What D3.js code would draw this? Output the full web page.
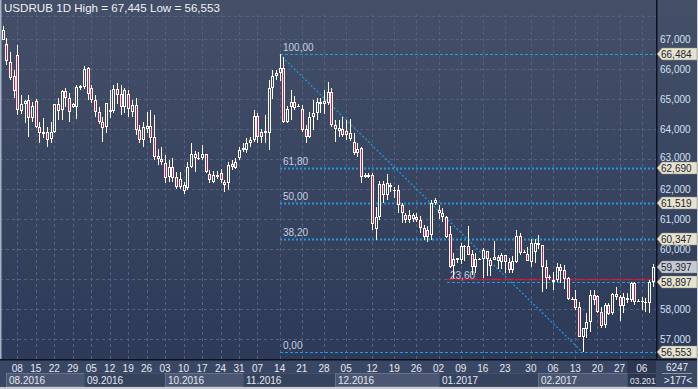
<!DOCTYPE html>
<html><head><meta charset="utf-8">
<script src="https://cdn.jsdelivr.net/npm/d3@7"></script>
<style>html,body{margin:0;padding:0;background:#3a4764;overflow:hidden}svg{display:block}text{font-family:"Liberation Sans",Arial,sans-serif}</style>
</head><body><svg id="c" width="698" height="389"></svg>
<script>
const opens=[66.98,66.83,66.24,65.77,66.47,64.61,64.83,64.97,64.36,64.93,64.06,63.83,63.89,63.67,63.91,64.82,64.63,65.27,65.04,64.74,64.74,65.36,65.41,66.02,65.36,64.97,64.56,64.22,64.06,64.58,64.61,65.32,65.17,64.72,65.17,64.58,64.80,63.97,63.63,64.00,64.10,63.74,63.10,62.99,62.86,62.41,62.74,62.41,62.08,61.94,62.02,62.74,63.16,63.00,63.04,63.16,62.49,62.24,62.47,62.54,62.24,62.19,62.82,62.69,63.02,63.30,63.30,63.52,63.63,64.43,63.91,63.87,63.86,65.36,65.77,65.86,66.02,64.24,64.74,64.91,64.78,64.66,63.99,63.74,64.41,64.52,64.91,64.93,64.86,65.24,64.13,63.94,63.99,63.94,63.68,63.58,63.19,63.36,62.41,62.41,62.47,60.67,61.08,62.16,61.80,62.08,61.97,61.97,61.47,61.13,60.97,61.00,61.08,60.97,60.69,60.63,60.47,61.52,61.30,61.21,61.06,60.50,59.43,59.63,59.63,60.11,60.10,59.82,59.39,59.66,59.67,59.94,59.63,59.63,59.74,59.58,59.80,59.58,59.30,59.58,60.43,59.89,59.83,59.58,59.91,60.21,60.13,59.41,59.06,58.91,58.97,59.41,59.30,59.02,58.33,58.33,58.06,57.08,57.32,57.58,58.47,58.43,57.91,57.47,58.13,57.86,58.49,58.41,58.10,58.36,58.30,58.86,58.28,58.24,58.24,58.19,58.91];
const highs=[67.445,67.02,66.56,65.97,66.80,65.13,64.97,65.13,64.91,64.99,64.24,64.36,64.06,64.24,64.85,65.02,65.30,65.36,65.19,64.86,65.47,65.47,66.09,66.08,65.47,65.13,64.72,64.41,64.86,65.30,65.47,65.53,65.47,65.36,65.30,64.97,65.02,64.13,64.24,64.58,64.64,64.47,63.33,63.40,63.13,62.95,63.02,62.58,62.58,62.24,62.91,63.52,63.27,63.24,63.46,63.16,62.63,62.61,62.61,62.66,62.30,62.91,62.97,63.02,63.41,63.52,63.69,63.74,64.63,64.54,64.00,64.47,65.63,65.97,65.97,66.484,66.41,64.78,65.30,65.10,64.82,64.80,64.13,64.58,64.97,65.02,65.02,65.30,65.57,65.36,64.30,64.30,64.41,64.30,64.35,63.85,63.52,63.41,62.53,62.53,62.53,61.41,62.25,62.25,62.50,62.19,62.08,62.13,61.52,61.20,61.30,61.20,61.20,61.10,60.80,60.75,61.63,61.70,61.45,61.35,61.10,60.75,59.88,59.69,60.20,60.15,60.75,59.95,59.85,59.70,60.03,59.94,59.70,60.27,59.80,59.85,59.80,59.70,59.77,60.63,60.52,59.97,60.08,60.32,60.32,60.45,60.13,59.63,59.12,59.25,59.52,59.49,59.47,59.06,58.40,58.63,58.24,57.13,57.86,58.63,58.63,58.47,58.08,58.19,58.19,58.52,58.74,58.47,58.52,58.52,58.91,58.91,58.33,58.41,58.36,58.97,59.50];
const lows=[66.95,66.12,65.63,65.02,64.47,64.50,64.20,63.74,64.24,64.02,63.54,63.69,63.41,63.55,63.86,64.30,64.30,64.72,64.24,64.70,64.33,65.30,65.35,64.97,64.86,64.41,64.16,63.58,63.86,64.36,64.52,64.84,64.47,64.52,64.41,64.41,63.80,63.52,63.41,63.86,63.52,62.96,62.80,62.80,62.19,62.24,62.24,61.99,61.99,61.83,61.97,62.69,62.58,62.97,62.97,62.52,62.19,62.19,62.32,62.19,61.91,61.97,62.63,62.66,62.97,63.24,63.19,63.41,63.58,63.52,63.52,63.52,63.30,65.00,65.63,65.60,64.19,64.19,64.30,64.63,64.74,63.90,63.52,63.69,63.97,64.30,64.52,64.50,64.80,64.06,63.58,63.74,63.74,63.63,63.60,63.13,63.08,62.19,62.36,62.36,60.63,60.30,60.97,61.52,61.63,61.90,61.69,61.19,60.86,60.86,60.86,60.90,60.90,60.55,60.30,60.25,60.30,61.45,61.00,60.90,60.36,59.38,59.05,59.55,59.50,59.60,59.80,59.15,59.19,59.62,59.03,59.09,59.09,59.63,59.33,59.33,59.20,59.20,59.20,59.52,59.80,59.85,59.61,59.41,59.52,60.00,58.58,58.68,58.97,58.63,58.91,58.86,58.68,58.30,58.30,57.97,57.08,56.553,57.02,57.24,58.13,57.86,57.36,57.36,57.80,57.80,58.30,57.60,57.86,58.19,58.24,58.13,58.24,57.97,57.91,57.86,58.72];
const closes=[67.30,66.28,65.69,65.28,64.63,64.82,64.93,64.36,64.77,64.08,63.86,63.89,63.63,63.91,64.82,64.61,65.27,65.04,64.58,64.82,65.41,65.43,65.99,65.17,64.97,64.58,64.22,64.02,64.86,64.63,65.32,65.13,64.74,65.30,64.66,64.80,63.97,63.63,64.08,64.10,63.69,63.08,62.99,62.91,62.36,62.74,62.36,62.08,62.32,62.13,62.74,63.16,63.02,63.04,63.16,62.58,62.30,62.47,62.41,62.30,62.13,62.80,62.74,62.91,63.30,63.36,63.52,63.63,64.43,63.74,63.74,63.94,65.36,65.77,65.88,66.02,64.24,64.66,64.91,64.69,64.78,63.97,63.74,64.41,64.52,64.91,64.83,64.83,65.24,64.13,63.99,64.02,63.80,63.80,63.88,63.19,63.32,62.41,62.47,62.47,60.83,61.08,62.16,61.80,62.19,62.13,61.97,61.47,61.19,60.97,61.13,61.13,60.97,60.69,60.41,60.41,61.52,61.62,61.19,61.06,60.41,59.41,59.66,59.69,60.10,60.11,59.80,59.41,59.66,59.66,59.98,59.67,59.43,59.74,59.61,59.80,59.58,59.30,59.61,60.43,59.88,59.89,59.61,60.21,60.21,60.12,59.41,59.02,59.06,58.97,59.41,59.28,59.00,58.32,58.33,58.02,57.08,57.36,57.58,58.47,58.30,57.91,57.44,58.13,57.83,58.49,58.41,58.10,58.41,58.30,58.86,58.24,58.28,58.27,58.19,58.91,59.397];

const weekIdx=[4,9,14,19,24,29,34,39,44,49,54,59,64,69,75,81,87,93,100,106,112,118,124,130,136,143,149,155,161,167,173];
const weekLabels=["08","15","22","29","05","12","19","26","03","10","17","24","31","07","14","21","28","05","12","19","26","02","09","16","23","30","06","13","20","27","06"];
const monthIdx=[1,22,44,65,90,118,145,169];
const monthLabels=["08.2016","09.2016","10.2016","11.2016","12.2016","01.2017","02.2017","03.2017"];
const priceTicks=[57,58,60,61,62,63,64,65,66,67];
const priceTickLabels=["57,000","58,000","60,000","61,000","62,000","63,000","64,000","65,000","66,000","67,000"];
const gridPrices=[57,58,59,60,61,62,63,64,65,66,67];
const fibPct=["100,00","61,80","50,00","38,20","23,60","0,00"];
const fibPrices=[66.484,62.690,61.519,60.347,58.897,56.553];
const fibPriceLabels=["66,484","62,690","61,519","60,347","58,897","56,553"];
const lastPrice=59.397, lastPriceLabel="59,397";
const supportPrice=59.0;
const anchorHi=75, anchorLo=157;

const svg=d3.select("#c");
const PW=656, PH=359;
const x=d3.scaleLinear().domain([0,176]).range([2.52,2.52+3.695*176]);
const y=d3.scaleLinear().domain([56,67]).range([369,39]);

const defs=svg.append("defs");
const g=defs.append("linearGradient").attr("id","bg").attr("gradientUnits","userSpaceOnUse").attr("x1",0).attr("y1",0).attr("x2",0).attr("y2",PH);
g.append("stop").attr("offset","0").attr("stop-color","#445068");
g.append("stop").attr("offset","1").attr("stop-color","#2d3a58");
defs.append("clipPath").attr("id","pc").append("rect").attr("x",0).attr("y",0).attr("width",PW).attr("height",PH);
defs.append("clipPath").attr("id","bc").append("rect").attr("x",0).attr("y",PH).attr("width",PW).attr("height",389-PH);

svg.append("rect").attr("width",698).attr("height",389).attr("fill","#3a4764");
svg.append("rect").attr("x",0).attr("y",0).attr("width",698).attr("height",PH).attr("fill","url(#bg)");

const plot=svg.append("g").attr("clip-path","url(#pc)");
plot.selectAll(".hg").data(gridPrices).join("line")
  .attr("x1",0).attr("x2",PW).attr("y1",d=>Math.round(y(d))+0.5).attr("y2",d=>Math.round(y(d))+0.5)
  .attr("stroke","#56627d").attr("stroke-dasharray","3,3");
plot.append("line").attr("x1",0).attr("x2",PW).attr("y1",16.5).attr("y2",16.5).attr("stroke","#56627d").attr("stroke-dasharray","3,3");
plot.selectAll(".vg").data(weekIdx).join("line")
  .attr("x1",d=>Math.round(x(d))+0.5).attr("x2",d=>Math.round(x(d))+0.5).attr("y1",14).attr("y2",PH)
  .attr("stroke","#56627d").attr("stroke-dasharray","3,3");

const fx0=Math.round(x(anchorHi));
fibPrices.forEach((p,k)=>{
  const yy=Math.round(y(p))+0.5;
  const thick=(k>=1&&k<=3);
  const start = k===4 ? 447 : fx0;
  plot.append("line").attr("x1",start).attr("x2",PW).attr("y1",yy).attr("y2",yy)
    .attr("stroke","#1e9ce0").attr("stroke-width",thick?2:1).attr("stroke-dasharray",thick?"2,2":"3,2");
  plot.append("text").attr("x",start+3).attr("y",yy-4).attr("font-size",10).attr("fill","#c4cfe2").text(fibPct[k]);
});
plot.append("line").attr("x1",x(anchorHi)).attr("y1",y(fibPrices[0])).attr("x2",x(anchorLo)).attr("y2",y(fibPrices[5]))
  .attr("stroke","#1e9ce0").attr("stroke-width",1.2).attr("stroke-dasharray","2,2");
plot.append("line").attr("x1",447).attr("x2",PW).attr("y1",Math.round(y(supportPrice))+0.5).attr("y2",Math.round(y(supportPrice))+0.5)
  .attr("stroke","#e0102e").attr("stroke-width",1.5).attr("stroke-dasharray","3,1");

const idx=d3.range(opens.length);
const cg=plot.append("g").attr("shape-rendering","crispEdges");
idx.forEach(i=>{
  const cx=Math.round(x(i));
  const yh=Math.round(y(highs[i])), yl=Math.round(y(lows[i]));
  cg.append("rect").attr("x",cx).attr("y",yh).attr("width",1).attr("height",Math.max(1,yl-yh)).attr("fill","#ffffff");
  const top=Math.round(y(Math.max(opens[i],closes[i]))), bot=Math.round(y(Math.min(opens[i],closes[i])));
  const h=Math.max(1,bot-top);
  cg.append("rect").attr("x",cx-1).attr("y",top).attr("width",3).attr("height",h).attr("fill","#ffffff");
  if(h>=3){
    cg.append("rect").attr("x",cx).attr("y",top+1).attr("width",1).attr("height",h-2)
      .attr("fill",closes[i]<opens[i]?"#e0143c":"url(#bg)");
  }
});

svg.append("rect").attr("x",0).attr("y",0).attr("width",1.5).attr("height",PH).attr("fill","#a9b2c4");
svg.append("rect").attr("x",PW).attr("y",0).attr("width",1.5).attr("height",PH+1).attr("fill","#0c1220");
svg.append("rect").attr("x",0).attr("y",PH).attr("width",698).attr("height",1.5).attr("fill","#0c1220");
svg.append("rect").attr("x",0).attr("y",387).attr("width",698).attr("height",2).attr("fill","#c9ccd2");
svg.append("rect").attr("x",697).attr("y",0).attr("width",1).attr("height",389).attr("fill","#c9ccd2");

svg.append("text").attr("x",4).attr("y",12).attr("font-size",11.6).attr("fill","#eef1f6").text("USDRUB 1D High = 67,445 Low = 56,553");

svg.selectAll(".pl").data(priceTicks).join("text")
  .attr("x",660).attr("y",d=>d===63?y(d)+2:y(d)+4).attr("font-size",10).attr("fill","#d3e0f2").text((d,i)=>priceTickLabels[i]);
function tag(p,label,fill){
  const yc=Math.round(y(p));
  svg.append("path").attr("d",`M${PW+1},${yc} L${PW+6},${yc-6} L697,${yc-6} L697,${yc+6} L${PW+6},${yc+6} Z`)
    .attr("fill",fill).attr("stroke","#8a8a80").attr("stroke-width",0.5);
  svg.append("text").attr("x",661).attr("y",yc+4).attr("font-size",10).attr("fill","#1c2636").text(label);
}
fibPrices.forEach((p,k)=>tag(p,fibPriceLabels[k],"#e6e2cc"));
tag(lastPrice,lastPriceLabel,"#c6cad2");

const bax=svg.append("g").attr("clip-path","url(#bc)");
monthIdx.forEach((m,k)=>{
  const x0=Math.round(x(m)), x1=k<monthIdx.length-1?Math.round(x(monthIdx[k+1])):PW;
  const light=(k%2===0)&&k<7;
  bax.append("rect").attr("x",x0+0.5).attr("y",373.5).attr("width",x1-x0).attr("height",13)
    .attr("fill",k===7?"#2c374f":(light?"#4b5772":"#36435f")).attr("stroke",light?"#66728c":"#44506a");
  const last=k===monthIdx.length-1;
  bax.append("text").attr("x",x0+3).attr("y",384).attr("font-size",last?8.4:10).attr("fill","#e2e7f0").text(monthLabels[k]);
});
bax.append("rect").attr("x",627).attr("y",361).attr("width",29).attr("height",12).attr("fill","#2c374f");
bax.selectAll(".wl").data(weekIdx).join("text")
  .attr("x",d=>x(d)).attr("y",372).attr("text-anchor","middle").attr("font-size",10).attr("fill","#e2e7f0")
  .text((d,i)=>weekLabels[i]);

svg.append("text").attr("x",677).attr("y",371).attr("text-anchor","middle").attr("font-size",10).attr("fill","#e2e7f0").text("6247");
svg.append("line").attr("x1",662).attr("x2",692).attr("y1",373.5).attr("y2",373.5).attr("stroke","#8d97aa");
svg.append("text").attr("x",678).attr("y",384).attr("text-anchor","middle").attr("font-size",10).attr("fill","#e2e7f0").text(">177<");
</script></body></html>
